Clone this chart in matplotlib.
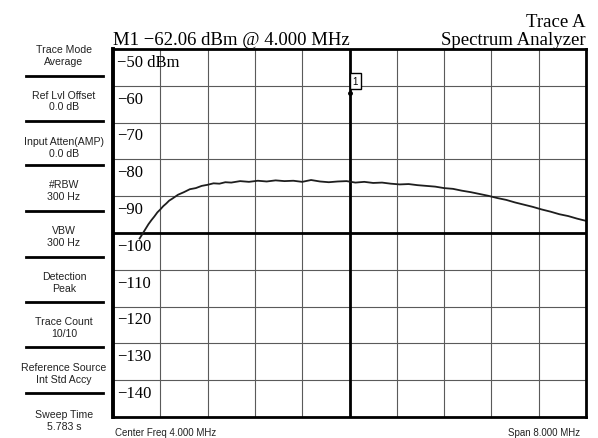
import numpy as np
import matplotlib.pyplot as plt

# trace (MHz, dBm)
freq_mhz = [0.45, 0.50, 0.55, 0.60, 0.65, 0.70, 0.75, 0.80, 0.85, 0.90, 0.95, 1.00,
            1.10, 1.20, 1.30, 1.40, 1.50, 1.60, 1.70, 1.80, 1.90, 2.00, 2.15, 2.30,
            2.45, 2.60, 2.75, 2.90, 3.05, 3.20, 3.35, 3.50, 3.65, 3.80, 3.95, 4.10,
            4.25, 4.40, 4.55, 4.70, 4.85, 5.00, 5.15, 5.30, 5.45, 5.60, 5.75, 5.90,
            6.05, 6.20, 6.35, 6.50, 6.65, 6.80, 6.95, 7.10, 7.25, 7.40, 7.55, 7.70,
            7.85, 8.00]
level_dbm = [-101.5, -100.2, -98.9, -97.6, -96.5, -95.5, -94.4, -93.6, -92.7, -92.0, -91.2, -90.7,
             -89.6, -88.9, -88.1, -87.8, -87.2, -86.9, -86.5, -86.6, -86.2, -86.3, -85.9, -86.1,
             -85.8, -86.0, -85.7, -85.9, -85.8, -86.1, -85.6, -86.0, -86.2, -86.0, -85.9, -86.3,
             -86.1, -86.4, -86.3, -86.6, -86.8, -86.7, -87.0, -87.2, -87.4, -87.8, -88.0, -88.5,
             -88.9, -89.4, -89.9, -90.5, -91.0, -91.7, -92.3, -92.9, -93.6, -94.2, -94.9, -95.4,
             -96.1, -96.7]

marker_freq = 4.0
marker_level = -62.06

ref_levels = [-50, -60, -70, -80, -90, -100, -110, -120, -130, -140]
ref_labels = ["\u221250 dBm", "\u221260", "\u221270", "\u221280", "\u221290",
              "\u2212100", "\u2212110", "\u2212120", "\u2212130", "\u2212140"]

softkeys = [("Trace Mode", "Average"),
            ("Ref Lvl Offset", "0.0 dB"),
            ("Input Atten(AMP)", "0.0 dB"),
            ("#RBW", "300 Hz"),
            ("VBW", "300 Hz"),
            ("Detection", "Peak"),
            ("Trace Count", "10/10"),
            ("Reference Source", "Int Std Accy"),
            ("Sweep Time", "5.783 s")]

W, H = 598, 439
fig = plt.figure(figsize=(W / 100, H / 100), dpi=100)
ax = fig.add_axes([113 / W, 21 / H, 473 / W, 368 / H])

ax.set_xlim(0, 8)
ax.set_ylim(-150, -50)
ax.set_xticks(np.linspace(0, 8, 11))
ax.set_yticks(np.arange(-150, -49, 10))
ax.grid(color='#5a5a5a', lw=0.8)
ax.tick_params(length=0, labelbottom=False, labelleft=False)
for s in ax.spines.values():
    s.set_linewidth(2)
ax.spines['left'].set_linewidth(2.8)
ax.axvline(4, color='black', lw=2)
ax.axhline(-100, color='black', lw=2)

ax.plot(freq_mhz, level_dbm, color='#1e1e1e', lw=1.3)
ax.plot([marker_freq], [marker_level], marker='o', ms=2.5, color='black')
ax.text(marker_freq + 0.05, -58.8, "1", fontsize=7, family='Liberation Sans',
        va='center', ha='left',
        bbox=dict(boxstyle='square,pad=0.3', fc='white', ec='black', lw=1))

for lev, lab in zip(ref_levels, ref_labels):
    ax.annotate(lab, (0, lev), xytext=(3, -3.5), textcoords='offset points',
                ha='left', va='top', fontsize=12, family='Liberation Serif')

serif = 'Liberation Serif'
fig.text(113 / W, 1 - 45 / H, "M1 \u221262.06 dBm @ 4.000 MHz", fontsize=13.5,
         family=serif, ha='left', va='baseline')
fig.text(586 / W, 1 - 45 / H, "Spectrum Analyzer", fontsize=13.5,
         family=serif, ha='right', va='baseline')
fig.text(586 / W, 1 - 27 / H, "Trace A", fontsize=13.5,
         family=serif, ha='right', va='baseline')

sans = 'Liberation Sans'
centers = [56, 101.5, 148, 191, 237, 283, 328, 374, 421]
for (a, b), yc in zip(softkeys, centers):
    fig.text(64 / W, 1 - yc / H, a + "\n" + b, fontsize=7.6, family=sans,
             ha='center', va='center', linespacing=1.2, color='#222222')
for yd in [77, 122, 166, 212, 258, 303, 348, 394]:
    fig.add_artist(plt.Line2D([26 / W, 103 / W], [1 - yd / H, 1 - yd / H],
                              color='black', lw=2))

fig.text(115 / W, 1 - 433 / H, "Center Freq 4.000 MHz", fontsize=7, family=sans,
         ha='left', va='center', color='#222222')
fig.text(580 / W, 1 - 433 / H, "Span 8.000 MHz", fontsize=7, family=sans,
         ha='right', va='center', color='#222222')

fig.savefig('out.png', dpi=100)
